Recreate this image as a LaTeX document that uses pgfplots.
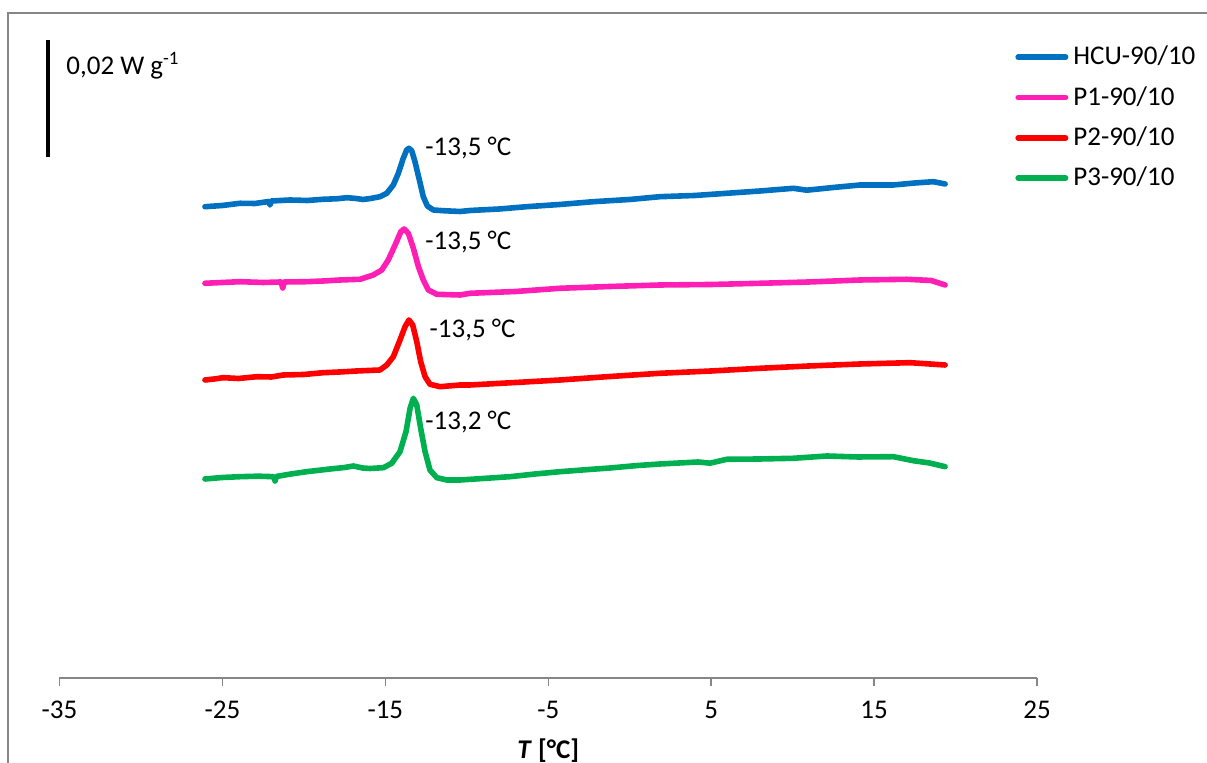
\documentclass[border=0pt]{standalone}
\usepackage{fontspec}
\setmainfont{Carlito}
\usepackage{pgfplots}
\pgfplotsset{compat=1.18}
\definecolor{cblue}{RGB}{0,112,192}
\definecolor{cpink}{RGB}{255,31,180}
\definecolor{cred}{RGB}{255,0,0}
\definecolor{cgreen}{RGB}{0,176,80}
\definecolor{framegray}{RGB}{134,134,134}
\begin{document}
\fontsize{13.5pt}{16pt}\selectfont
\begin{tikzpicture}
\path[use as bounding box] (-29.75pt,-42.5pt) rectangle (573.75pt,339pt);
\draw[framegray, line width=0.7pt] (-25.75pt,-60pt) -- (-25.75pt,332.5pt) -- (620pt,332.5pt);
\begin{axis}[
  at={(0pt,0pt)}, anchor=south west,
  scale only axis, width=488.75pt, height=330pt,
  xmin=-35, xmax=25, ymin=0, ymax=660,
  clip=false,
  axis y line=none,
  axis x line*=bottom,
  x axis line style={framegray, line width=0.7pt, -},
  xtick={-35,-25,-15,-5,5,15,25},
  xticklabels={-35,-25,-15,-5,5,15,25},
  tick align=outside,
  major tick length=4pt,
  tick style={framegray, line width=0.7pt},
  xticklabel style={text=black, yshift=-3pt},
  xlabel={\textbf{\textit{T} [°C]}},
  xlabel style={at={(axis description cs:0.5,0)}, anchor=center, yshift=-36.5pt},
  every axis plot/.append style={line width=2.8pt, line cap=round, line join=round},
  legend image code/.code={\draw[#1] (1.4pt,0pt) -- (25.1pt,0pt);},
  legend cell align=left,
  legend style={draw=none, fill=none, at={(0.9775,0.9600)}, anchor=north west,
    inner sep=0pt, row sep=7.65pt, column sep=2.5pt,
    nodes={inner sep=0pt, text height=10pt, text depth=2.5pt}},
]
% HCU-90/10
\addplot[cblue] coordinates {
(-26.07,471.3) (-25.0,472.5) (-23.92,474.7) (-23.0,474.5) (-22.15,476.5) (-22.08,473.0) (-22.0,477.0)
(-20.85,478.0) (-19.8,477.5) (-18.82,478.7) (-18.0,479.2) (-17.35,480.3) (-16.8,479.5)
(-16.37,478.5) (-15.9,479.5) (-15.33,481.3) (-14.91,484.7) (-14.51,493.0) (-14.20,504.7)
(-13.90,519.7) (-13.69,528.0) (-13.55,529.7) (-13.38,527.3) (-13.18,516.3) (-12.91,498.0)
(-12.67,481.3) (-12.42,472.0) (-12.05,468.0) (-11.46,467.3) (-10.41,466.5) (-9.80,467.5)
(-8.0,469.0) (-6.32,471.3) (-4.3,473.5) (-2.23,476.3) (0.0,478.5) (1.86,481.3) (4.0,482.5)
(5.96,484.7) (8.0,487.0) (10.05,489.7) (10.87,487.8) (12.5,490.5) (14.14,493.0) (16.18,493.0)
(17.5,495.0) (18.64,496.3) (19.36,494.0)
};
\addlegendentry{HCU-90/10}
% P1-90/10
\addplot[cpink] coordinates {
(-26.07,394.7) (-25.0,395.5) (-23.92,396.3) (-22.5,395.5) (-21.40,396.0) (-21.30,390.0) (-21.20,396.0)
(-19.83,396.3) (-18.8,397.0) (-17.78,398.0) (-16.55,398.7) (-15.74,403.0) (-15.22,408.0)
(-14.82,418.0) (-14.40,433.0) (-14.05,446.3) (-13.85,449.0) (-13.59,444.7) (-13.28,429.7)
(-12.97,411.3) (-12.67,398.0) (-12.36,388.0) (-11.84,383.7) (-10.41,383.0) (-9.80,384.7)
(-7.0,386.5) (-4.28,389.7) (-1.2,391.5) (1.86,393.0) (5.0,393.5) (8.00,394.7) (11.0,396.0)
(14.14,398.0) (17.01,398.7) (18.5,397.5) (19.36,393.0)
};
\addlegendentry{P1-90/10}
% P2-90/10
\addplot[cred] coordinates {
(-26.07,298.0) (-25.5,299.0) (-24.96,300.3) (-24.0,299.5) (-22.89,301.3) (-22.0,301.0) (-21.26,303.0)
(-20.0,303.5) (-18.81,305.3) (-17.8,306.0) (-16.76,307.0) (-15.33,308.0) (-14.91,313.0)
(-14.51,321.3) (-14.14,336.3) (-13.79,351.3) (-13.55,358.0) (-13.32,353.0) (-13.07,336.3)
(-12.83,316.3) (-12.56,301.3) (-12.26,293.7) (-11.64,291.3) (-10.41,293.0) (-9.80,293.0)
(-7.0,295.5) (-4.28,298.0) (-1.2,301.5) (1.86,304.7) (5.0,307.0) (8.00,309.7) (11.0,312.0)
(14.14,314.0) (17.21,315.3) (19.36,313.0)
};
\addlegendentry{P2-90/10}
% P3-90/10
\addplot[cgreen] coordinates {
(-26.07,199.0) (-25.0,200.5) (-23.92,201.3) (-22.8,201.8) (-21.85,201.3) (-21.77,197.0) (-21.69,201.5)
(-20.8,204.0) (-19.83,206.3) (-18.39,209.0) (-17.5,210.5) (-16.96,212.0) (-16.4,210.0)
(-15.94,209.5) (-15.12,210.3) (-14.61,214.7) (-14.10,226.3) (-13.73,246.3) (-13.48,269.7)
(-13.28,279.7) (-13.07,273.0) (-12.83,249.7) (-12.56,226.3) (-12.26,208.0) (-11.84,200.3)
(-11.23,198.0) (-10.41,198.0) (-9.0,199.5) (-7.35,201.3) (-5.8,204.0) (-4.28,206.3)
(-2.5,208.5) (-1.21,210.0) (0.5,212.5) (1.86,214.0) (4.2,216.0) (4.93,214.8) (5.96,218.7)
(8.0,219.0) (10.05,219.7) (12.10,222.0) (14.0,221.0) (16.18,221.3) (17.41,217.3) (18.4,215.0) (19.36,211.3)
};
\addlegendentry{P3-90/10}
% scale bar: 0.02 W/g
\addplot[black, line width=2.2pt, line cap=butt, forget plot] coordinates {(-35.71,521) (-35.71,638)};
\node[anchor=west, inner sep=0pt] at (axis cs:-34.6,612) {0,02 W g\textsuperscript{-1}};
\node[anchor=west, inner sep=0pt] at (axis cs:-12.56,530) {-13,5 °C};
\node[anchor=west, inner sep=0pt] at (axis cs:-12.56,436) {-13,5 °C};
\node[anchor=west, inner sep=0pt] at (axis cs:-12.30,348) {-13,5 °C};
\node[anchor=west, inner sep=0pt] at (axis cs:-12.56,256) {-13,2 °C};
\end{axis}
\end{tikzpicture}
\end{document}
